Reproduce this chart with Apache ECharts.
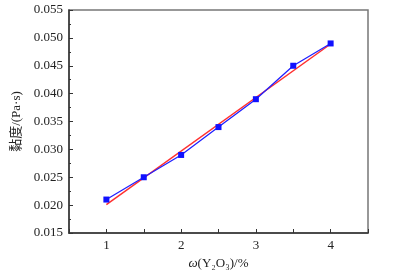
<!DOCTYPE html>
<html>
<head>
<meta charset="utf-8">
<script src="https://cdn.jsdelivr.net/npm/echarts@6/dist/echarts.min.js"></script>
<style>
html, body { margin: 0; padding: 0; background: #fff; }
#chart { width: 396px; height: 275px; }
</style>
</head>
<body>
<div id="chart"></div>
<script>
// 数据
var xVals = [1, 1.5, 2, 2.5, 3, 3.5, 4];
var viscosity = [0.021, 0.025, 0.029, 0.034, 0.039, 0.045, 0.049];
var fitX = [1, 4];
var fitY = [0.0201, 0.0489];

var chart = echarts.init(document.getElementById('chart'));

var serif = '"Liberation Serif", "Times New Roman", serif';

var option = {
    animation: false,
    grid: {
        left: 69,
        right: 28,
        top: 10,
        bottom: 37,
        show: true,
        borderColor: '#777',
        borderWidth: 1.5,
        backgroundColor: 'transparent'
    },
    xAxis: {
        type: 'value',
        min: 0.5,
        max: 4.5,
        interval: 0.5,
        name: '{it|ω}(Y₂O₃)/%',
        nameLocation: 'middle',
        nameGap: 24,
        nameTextStyle: {
            color: '#222',
            fontSize: 13,
            fontFamily: serif,
            rich: {
                it: { fontStyle: 'italic', fontSize: 13, fontFamily: serif, color: '#222' }
            }
        },
        axisLine: { lineStyle: { color: '#333', width: 1.5 } },
        axisTick: { inside: true, length: 4, lineStyle: { color: '#333' } },
        axisLabel: {
            color: '#222',
            fontSize: 13,
            fontFamily: serif,
            margin: 6,
            formatter: function (v) {
                return Math.abs(v - Math.round(v)) < 1e-6 ? String(Math.round(v)) : '';
            }
        },
        splitLine: { show: false }
    },
    yAxis: {
        type: 'value',
        min: 0.015,
        max: 0.055,
        interval: 0.005,
        name: '黏度/(Pa·s)',
        nameLocation: 'middle',
        nameRotate: 90,
        nameGap: 42,
        nameTextStyle: {
            color: '#222',
            fontSize: 13,
            fontFamily: '"Liberation Serif", "Noto Sans CJK SC", serif'
        },
        axisLine: { show: true, lineStyle: { color: '#333', width: 1.5 } },
        axisTick: { inside: true, length: 4, lineStyle: { color: '#333' } },
        minorTick: { show: true, splitNumber: 2, length: 2, lineStyle: { color: '#333' } },
        axisLabel: {
            color: '#222',
            fontSize: 13,
            fontFamily: serif,
            margin: 6,
            formatter: function (v) { return v.toFixed(3); }
        },
        splitLine: { show: false }
    },
    series: [
        {
            name: 'fit',
            type: 'line',
            data: fitX.map(function (x, i) { return [x, fitY[i]]; }),
            symbol: 'none',
            lineStyle: { color: '#ff3030', width: 1.5 },
            z: 2
        },
        {
            name: 'data',
            type: 'line',
            data: xVals.map(function (x, i) { return [x, viscosity[i]]; }),
            symbol: 'rect',
            symbolSize: 6,
            itemStyle: { color: '#1010ff' },
            lineStyle: { color: '#2020ff', width: 1.3 },
            z: 3
        }
    ]
};

chart.setOption(option);
</script>
</body>
</html>
